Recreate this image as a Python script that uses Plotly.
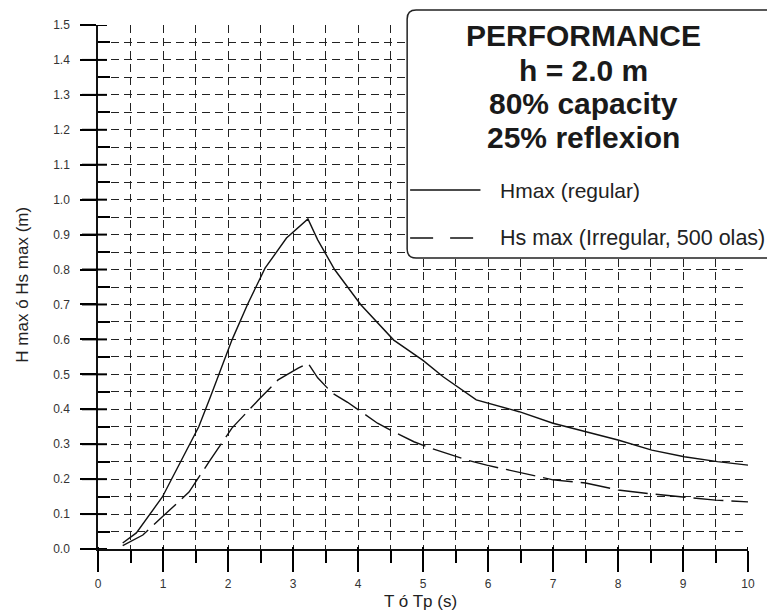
import plotly.graph_objects as go

# Hmax (regular)
hmax_T = [0.38, 0.59, 0.99, 1.3, 1.55, 1.73, 2.06, 2.3, 2.57, 2.9, 3.08, 3.23, 3.38, 3.64, 4.04, 4.55, 5.0, 5.31, 5.82, 6.48, 7.0, 7.5, 8.0, 8.52, 9.02, 9.53, 10.0]
hmax_H = [0.017, 0.046, 0.149, 0.26, 0.35, 0.436, 0.598, 0.70, 0.804, 0.89, 0.919, 0.945, 0.885, 0.80, 0.70, 0.598, 0.54, 0.493, 0.427, 0.393, 0.36, 0.335, 0.312, 0.283, 0.264, 0.25, 0.24]

# Hs max (irregular, 500 olas)
hs_T = [0.38, 0.69, 0.99, 1.4, 1.71, 2.06, 2.47, 2.77, 3.08, 3.23, 3.38, 3.6, 3.84, 4.3, 4.5, 4.86, 5.1, 5.67, 5.98, 6.48, 7.0, 7.5, 8.0, 8.5, 9.0, 9.5, 10.0]
hs_H = [0.01, 0.04, 0.092, 0.163, 0.25, 0.346, 0.427, 0.484, 0.518, 0.532, 0.49, 0.447, 0.42, 0.36, 0.34, 0.307, 0.29, 0.255, 0.24, 0.22, 0.198, 0.189, 0.169, 0.158, 0.148, 0.14, 0.135]

# tick values
x_major = [0, 1, 2, 3, 4, 5, 6, 7, 8, 9, 10]
x_minor = [0.5, 1.5, 2.5, 3.5, 4.5, 5.5, 6.5, 7.5, 8.5, 9.5]
y_major = [0.0, 0.1, 0.2, 0.3, 0.4, 0.5, 0.6, 0.7, 0.8, 0.9, 1.0, 1.1, 1.2, 1.3, 1.4, 1.5]
y_minor = [0.05, 0.15, 0.25, 0.35, 0.45, 0.55, 0.65, 0.75, 0.85, 0.95, 1.05, 1.15, 1.25, 1.35, 1.45]

title_lines = ["PERFORMANCE", "h = 2.0 m", "80% capacity", "25% reflexion"]
legend_names = ["Hmax (regular)", "Hs max (Irregular, 500 olas)"]
x_title = "T ó Tp (s)"
y_title = "H max ó Hs max (m)"

FONT = "Liberation Sans, Arial, sans-serif"
GRID = "#222"
DASH = "8px,5px"
TICKC = "#000000"

fig = go.Figure()
# invisible carrier trace for the fine-grid axes (x2/y2)
fig.add_trace(go.Scatter(x=hs_T, y=hs_H, mode="lines", xaxis="x2", yaxis="y2",
                         line=dict(color="rgba(0,0,0,0)", width=0), hoverinfo="skip", showlegend=False))
fig.add_trace(go.Scatter(x=hmax_T, y=hmax_H, mode="lines", name=legend_names[0],
                         line=dict(color="#111", width=1.4)))
fig.add_trace(go.Scatter(x=hs_T, y=hs_H, mode="lines", name=legend_names[1],
                         line=dict(color="#111", width=1.4, dash="30px,8px")))

W, H = 767, 611
L, R, T, B = 98, 13, 25, 62
pw, ph = W - L - R, H - T - B

def px(xp):
    return (xp - L) / pw

def py(yp):
    return (H - B - yp) / ph

fig.update_layout(
    width=W, height=H,
    margin=dict(l=L, r=R, t=T, b=B),
    paper_bgcolor="white", plot_bgcolor="white",
    showlegend=False,
    font=dict(family=FONT, color="#222"),
    xaxis=dict(
        range=[0, 10], tickvals=x_major, ticktext=[str(v) for v in x_major],
        showline=True, linecolor="#111", linewidth=1.5,
        zeroline=False,
        showgrid=True, gridcolor=GRID, griddash=DASH, gridwidth=1.2,
        ticks="outside", ticklen=21, tickwidth=2, tickcolor=TICKC,
        tickfont=dict(size=12, color="#333"), ticklabelstandoff=2,
    ),
    yaxis=dict(
        range=[0, 1.5], tickvals=y_major, ticktext=[f"{v:.1f}" for v in y_major],
        showline=True, linecolor="#111", linewidth=1.5,
        zeroline=False,
        showgrid=True, gridcolor=GRID, griddash=DASH, gridwidth=1.2,
        ticks="outside", ticklen=16, tickwidth=2, tickcolor=TICKC,
        tickfont=dict(size=12, color="#333"), ticklabelstandoff=8,
    ),
    xaxis2=dict(
        overlaying="x", anchor="y2", side="bottom", range=[0, 10], tickvals=x_minor,
        showline=False, zeroline=False, showticklabels=False,
        showgrid=True, gridcolor=GRID, griddash=DASH, gridwidth=1.2,
        ticks="outside", ticklen=13, tickwidth=1.8, tickcolor=TICKC,
    ),
    yaxis2=dict(
        overlaying="y", anchor="x2", side="left", range=[0, 1.5], tickvals=y_minor,
        showline=False, zeroline=False, showticklabels=False,
        showgrid=True, gridcolor=GRID, griddash=DASH, gridwidth=1.2,
        ticks="inside", ticklen=12, tickwidth=1.8, tickcolor=TICKC,
    ),
)

# crossing parts of the major tick marks, anchored on axis values
for v in x_major:
    fig.add_shape(type="line", xref="x", yref="paper", ysizemode="pixel", yanchor=0,
                  x0=v, x1=v, y0=-21, y1=2, line=dict(color=TICKC, width=2), layer="above")
for v in y_major:
    fig.add_shape(type="line", xref="paper", yref="y", xsizemode="pixel", xanchor=0,
                  y0=v, y1=v, x0=-16, x1=9, line=dict(color=TICKC, width=2), layer="above")

# legend/info box with rounded corners
x0, x1 = px(410), px(778)
y0, y1 = py(258), py(10)
rx, ry = 9 / pw, 9 / ph
path = (f"M {x0+rx},{y1} L {x1},{y1} L {x1},{y0} L {x0+rx},{y0} "
        f"Q {x0},{y0} {x0},{y0+ry} L {x0},{y1-ry} Q {x0},{y1} {x0+rx},{y1} Z")
fig.add_shape(type="path", path=path, xref="paper", yref="paper",
              line=dict(color="#222", width=1.5), fillcolor="white", layer="above")
fig.add_shape(type="line", xref="paper", yref="paper", x0=px(413), x1=px(484), y0=py(190), y1=py(190),
              line=dict(color="#111", width=1.5), layer="above")
fig.add_shape(type="line", xref="paper", yref="paper", x0=px(413), x1=px(481), y0=py(238), y1=py(238),
              line=dict(color="#111", width=1.5, dash="23px,17px"), layer="above")

cx = px(588)
ys = [36, 71, 104, 137]
for txt, yy in zip(title_lines, ys):
    fig.add_annotation(text=f"<b>{txt}</b>", x=cx, y=py(yy), xref="paper", yref="paper",
                       showarrow=False, xanchor="center", yanchor="middle",
                       font=dict(size=30, family=FONT, color="#1a1a1a"))
fig.add_annotation(text=legend_names[0], x=px(502), y=py(190), xref="paper", yref="paper",
                   showarrow=False, xanchor="left", yanchor="middle",
                   font=dict(size=21, family=FONT, color="#222"))
fig.add_annotation(text=legend_names[1], x=px(502), y=py(238), xref="paper", yref="paper",
                   showarrow=False, xanchor="left", yanchor="middle",
                   font=dict(size=21.5, family=FONT, color="#222"))

# axis titles
fig.add_annotation(text=x_title, x=px(423), y=py(601), xref="paper", yref="paper",
                   showarrow=False, xanchor="center", yanchor="middle",
                   font=dict(size=17, family=FONT, color="#222"))
fig.add_annotation(text=y_title, x=px(21), y=py(285), xref="paper", yref="paper",
                   showarrow=False, xanchor="center", yanchor="middle", textangle=-90,
                   font=dict(size=17, family=FONT, color="#222"))

fig.write_html("out.html")
